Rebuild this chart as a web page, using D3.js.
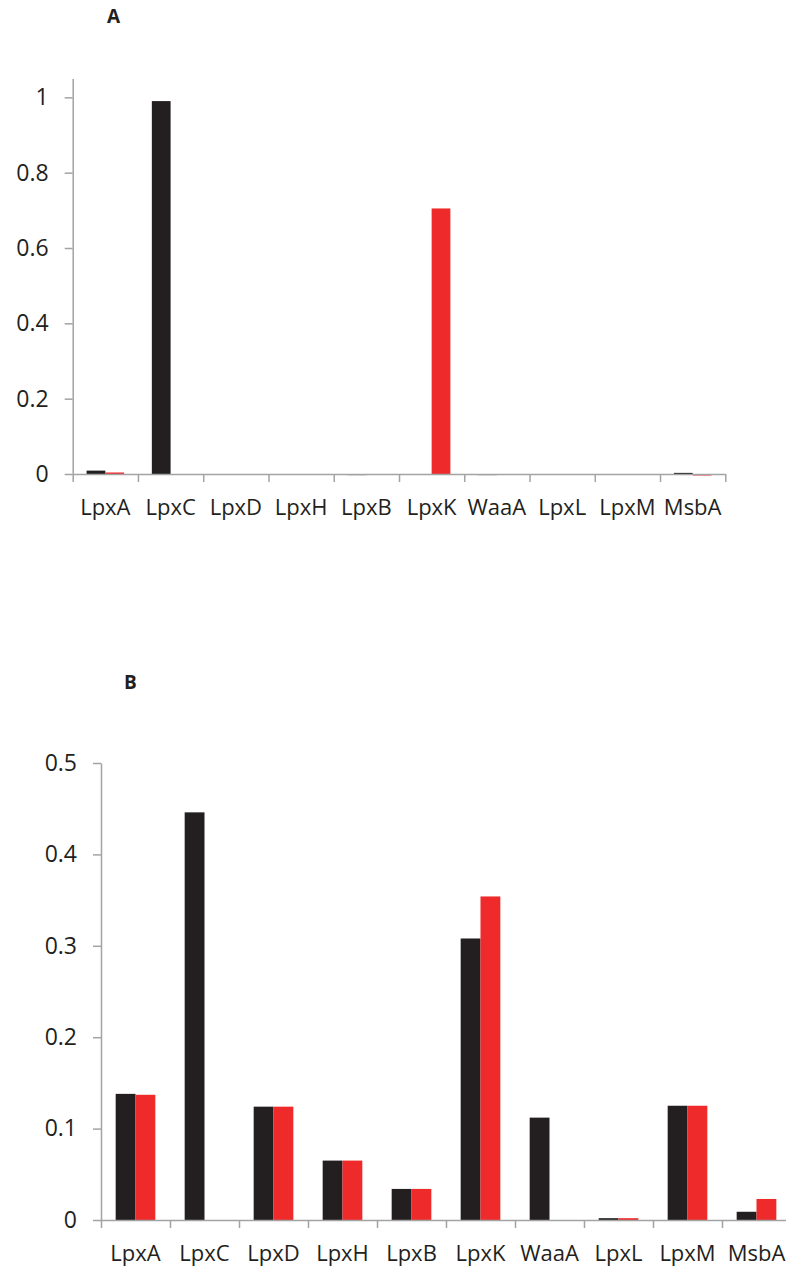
<!DOCTYPE html>
<meta charset="utf-8">
<head>
  <title>Lpx pathway bars, panels A and B</title>
</head>

<style>
body { margin: 0; background: #fff; }
text {
  font-family: "Open Sans", sans-serif;
  fill: #231f20;
}
.axis path, .axis line {
  stroke: #a3a3a3;
  stroke-width: 1.5;
}
.panel-label {
  font-weight: bold;
  font-size: 19px;
}
</style>

<body>
  <svg width="786" height="1268"></svg>

  <script src="https://d3js.org/d3.v7.min.js"></script>
  <script>
// categories shared by both panels
var genes = ["LpxA", "LpxC", "LpxD", "LpxH", "LpxB", "LpxK", "WaaA", "LpxL", "LpxM", "MsbA"];
var series = ["black", "red"];
var colors = ["#231f20", "#ee2a2b"];

// panel A values
var aBlack = [0.009, 0.99, 0, 0, -0.003, 0, -0.003, 0, 0, 0.003];
var aRed   = [0.004, 0, 0, 0, 0, 0.705, 0, 0, 0, -0.004];
var aTicks = [0, 0.2, 0.4, 0.6, 0.8, 1];

// panel B values
var bBlack = [0.138, 0.446, 0.124, 0.065, 0.034, 0.308, 0.112, 0.002, 0.125, 0.009];
var bRed   = [0.137, 0, 0.124, 0.065, 0.034, 0.354, 0, 0.002, 0.125, 0.023];
var bTicks = [0, 0.1, 0.2, 0.3, 0.4, 0.5];

var svg = d3.select('svg');

function drawPanel(opts) {
  var g = svg.append('g');

  var x = d3.scaleBand()
    .domain(genes)
    .range([opts.left, opts.right]);

  var xSub = d3.scaleBand()
    .domain(series)
    .range([0, x.bandwidth()])
    .paddingOuter(0.74);

  // category boundaries for the tick marks
  var xEdge = d3.scaleLinear()
    .domain([0, genes.length])
    .range([opts.left, opts.right]);

  var y = d3.scaleLinear()
    .domain([0, opts.yMax])
    .range([opts.base, opts.top]);

  var rows = genes.map(function(name, i) {
    return {name: name, values: [opts.black[i], opts.red[i]]};
  });

  // bars
  var groups = g.selectAll('g.cat')
    .data(rows)
    .enter()
    .append('g')
    .attr('class', 'cat')
    .attr('transform', function(d) { return 'translate(' + x(d.name) + ',0)'; });

  groups.selectAll('rect')
    .data(function(d) { return d.values.map(function(v, j) { return {s: series[j], v: v, c: colors[j]}; }); })
    .enter()
    .append('rect')
    .attr('x', function(d) { return xSub(d.s); })
    .attr('width', xSub.bandwidth())
    .attr('y', function(d) { return y(Math.max(0, d.v)); })
    .attr('height', function(d) { return Math.abs(y(d.v) - y(0)); })
    .attr('fill', function(d) { return d.c; });

  // y axis
  g.append('g')
    .attr('class', 'axis')
    .attr('transform', 'translate(' + opts.left + ',0)')
    .call(d3.axisLeft(y)
      .tickValues(opts.ticks)
      .tickFormat(d3.format('~g'))
      .tickSize(8)
      .tickSizeOuter(0)
      .tickPadding(16))
    .call(function(a) {
      a.selectAll('text').attr('font-size', 23).attr('fill', '#231f20');
    });

  // x axis line and boundary ticks
  g.append('g')
    .attr('class', 'axis')
    .attr('transform', 'translate(0,' + opts.base + ')')
    .call(d3.axisBottom(xEdge)
      .tickValues(d3.range(genes.length + 1))
      .tickFormat('')
      .tickSize(8)
      .tickSizeOuter(0));

  // category labels
  g.append('g')
    .attr('transform', 'translate(0,' + opts.base + ')')
    .call(d3.axisBottom(x).tickSize(0))
    .call(function(a) {
      a.select('.domain').remove();
      a.selectAll('text')
        .attr('y', 41)
        .attr('dy', null)
        .attr('font-size', 22)
        .attr('fill', '#231f20');
    });

  svg.append('text')
    .attr('class', 'panel-label')
    .attr('x', opts.labelX)
    .attr('y', opts.labelY)
    .text(opts.label);
}

drawPanel({
  label: 'A', labelX: 107, labelY: 23,
  left: 72.7, right: 725.3, base: 474, top: 78.5, yMax: 1.05,
  black: aBlack, red: aRed, ticks: aTicks
});

drawPanel({
  label: 'B', labelX: 124, labelY: 689,
  left: 101, right: 791, base: 1220, top: 763, yMax: 0.5,
  black: bBlack, red: bRed, ticks: bTicks
});
  </script>
</body>
</html>
